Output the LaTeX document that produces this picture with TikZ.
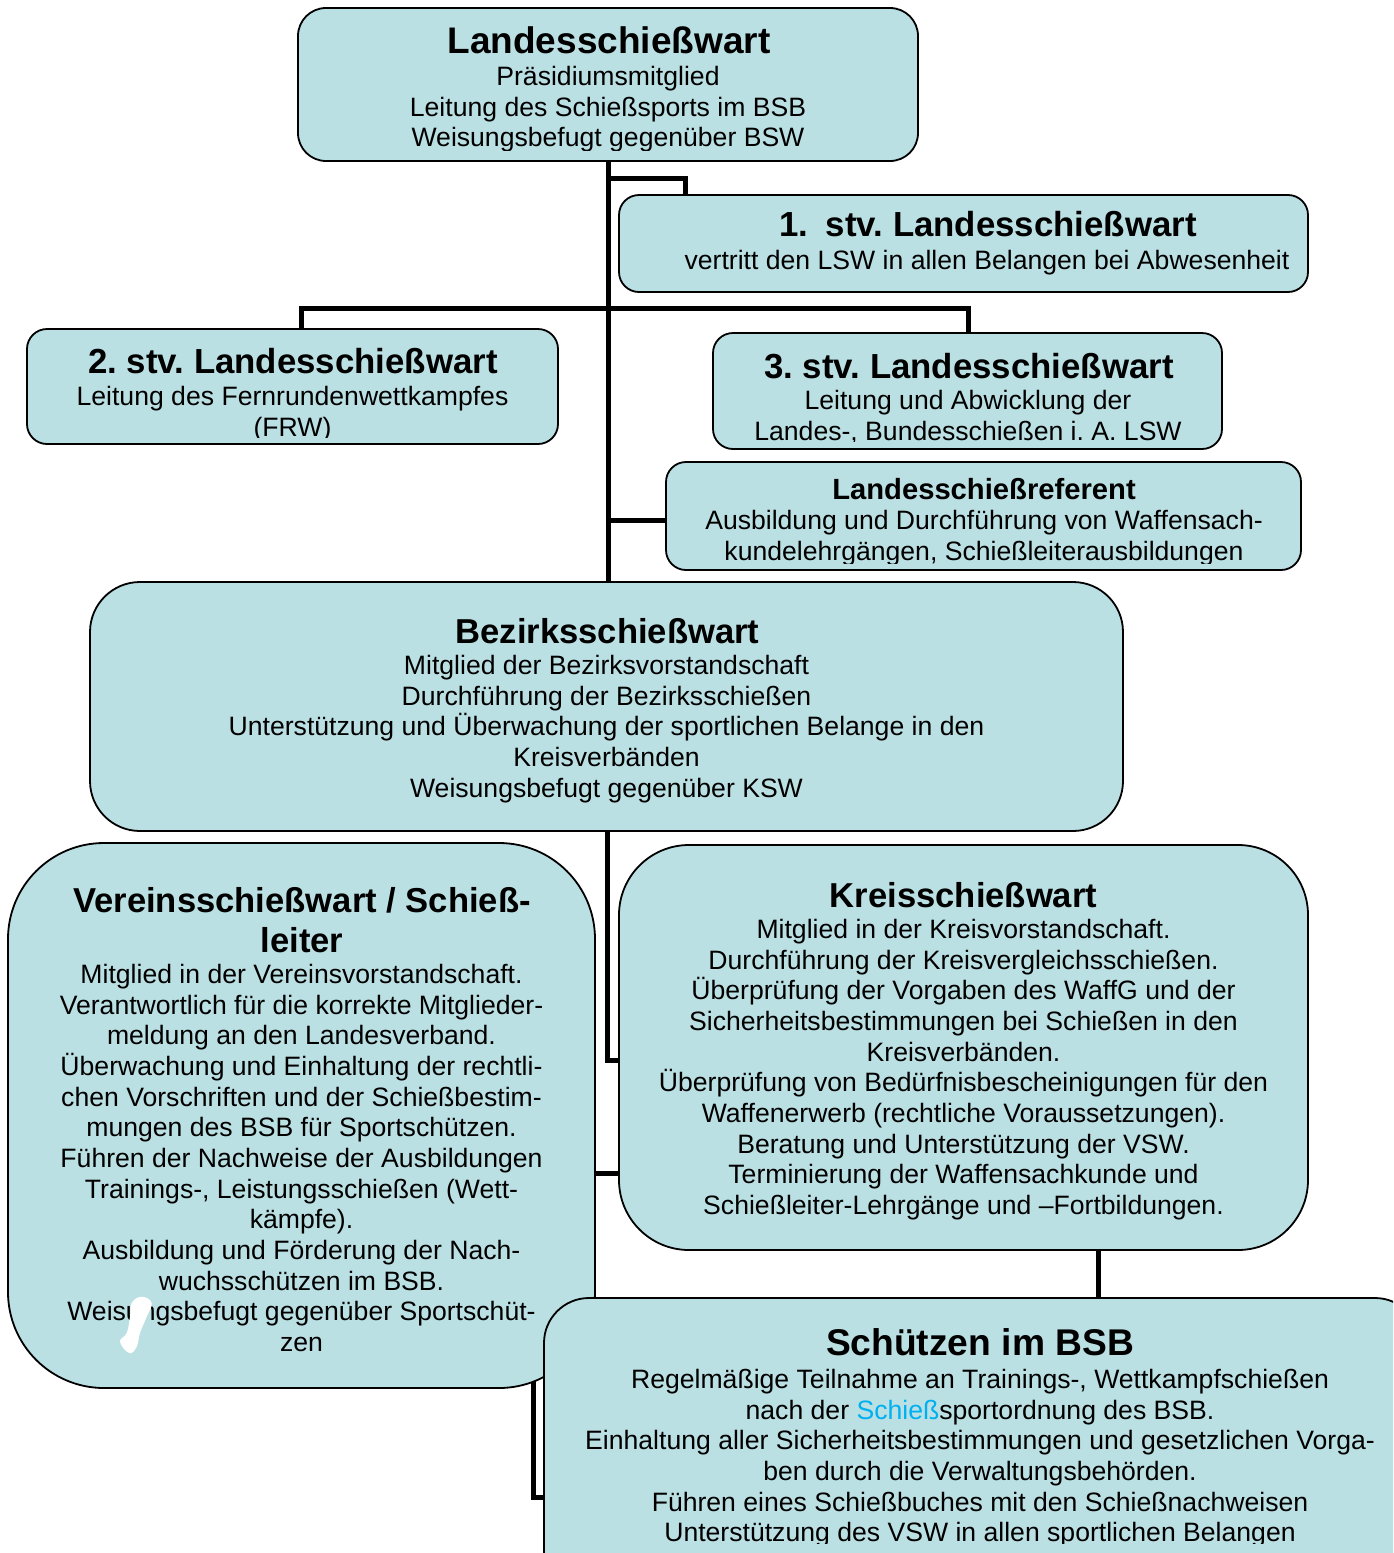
\documentclass[tikz,border=0pt]{standalone}
\usepackage{fontspec}
\setmainfont{Liberation Sans}
\usetikzlibrary{backgrounds}
\definecolor{boxfill}{RGB}{187,224,227}
\definecolor{linkblue}{RGB}{0,176,240}
\newcommand\firststrut{\rule{0pt}{13pt}}
\newcommand\titlestrut{\rule{0pt}{16pt}}
\begin{document}
\frenchspacing
\begin{tikzpicture}[x=0.5pt,y=-0.5pt,
  box/.style={draw=black, line width=0.9pt, fill=boxfill, inner sep=0pt, outer sep=0pt, anchor=north west},
  conn/.style={line width=2.5pt, draw=black},
  body/.style={font=\fontsize{13.3}{15.33}\selectfont, align=center, inner sep=0pt, anchor=north},
  ttl/.style={font=\bfseries\fontsize{#1}{20}\selectfont, inner sep=0pt, anchor=base},
]
\useasboundingbox (0,0) rectangle (1393,1553);
\clip (0,0) rectangle (1393,1553);

% boxes
\node[box, minimum width=310pt, minimum height=76.5pt, rounded corners=14pt] (lsw) at (298,8) {};
\node[box, minimum width=344.5pt, minimum height=48.5pt, rounded corners=10pt] (stv1) at (619,195) {};
\node[box, minimum width=265.5pt, minimum height=57.5pt, rounded corners=10pt] (stv2) at (27,329) {};
\node[box, minimum width=254.5pt, minimum height=58pt, rounded corners=10pt] (stv3) at (713,333) {};
\node[box, minimum width=317.5pt, minimum height=54pt, rounded corners=10pt] (ref) at (666,462) {};
\node[box, minimum width=516.5pt, minimum height=124.5pt, rounded corners=25pt] (bez) at (90,582) {};
\node[box, minimum width=293.5pt, minimum height=272.5pt, rounded corners=48pt] (verein) at (8,843) {};
\node[box, minimum width=344.5pt, minimum height=202.5pt, rounded corners=35pt] (kreis) at (619,845) {};
\node[box, minimum width=438pt, minimum height=161pt, rounded corners=22.5pt] (sch) at (544,1298) {};

% texts
\node[ttl=18.5] (lswT) at (609,53) {Landesschießwart};
\begin{scope}
\clip (298,8) rectangle (918,150);
\node[body] (lswB) at (608,59) {\firststrut Präsidiumsmitglied\\Leitung des Schießsports im BSB\\Weisungsbefugt gegenüber BSW};
\end{scope}

\node[ttl=17.4] (stv1T) at (988,236) {1.\kern4pt{} stv. Landesschießwart};
\node[body] (stv1B) at (987,243) {\firststrut vertritt den LSW in allen Belangen bei Abwesenheit};

\node[ttl=17.4] (stv2T) at (293,373) {2. stv. Landesschießwart};
\begin{scope}
\clip (27,329) rectangle (558,437);
\node[body] (stv2B) at (292.5,379) {\firststrut Leitung des Fernrundenwettkampfes\\(FRW)};
\end{scope}

\node[ttl=17.4] (stv3T) at (969,378) {3. stv. Landesschießwart};
\begin{scope}
\clip (713,333) rectangle (1222,441);
\node[body] (stv3B) at (968,383) {\firststrut Leitung und Abwicklung der\\Landes-, Bundesschießen i. A. LSW};
\end{scope}

\node[ttl=14.6] (refT) at (984,499) {Landesschießreferent};
\begin{scope}
\clip (666,462) rectangle (1301,563);
\node[body] (refB) at (984,503) {\firststrut Ausbildung und Durchführung von Waffensach-\\kundelehrgängen, Schießleiterausbildungen};
\end{scope}

\node[ttl=17.3] (bezT) at (607.5,643) {Bezirksschießwart};
\node[body] (bezB) at (606.5,648) {\firststrut Mitglied der Bezirksvorstandschaft\\Durchführung der Bezirksschießen\\Unterstützung und Überwachung der sportlichen Belange in den\\Kreisverbänden\\Weisungsbefugt gegenüber KSW};

\node[font=\bfseries\fontsize{17.3}{20}\selectfont, align=center, inner sep=0pt, anchor=north] (vereinT) at (302,880) {\titlestrut Vereinsschießwart / Schieß-\\leiter};
\node[body] (vereinB) at (301.5,957) {\firststrut Mitglied in der Vereinsvorstandschaft.\\Verantwortlich für die korrekte Mitglieder-\\meldung an den Landesverband.\\Überwachung und Einhaltung der rechtli-\\chen Vorschriften und der Schießbestim-\\mungen des BSB für Sportschützen.\\Führen der Nachweise der Ausbildungen\\Trainings-, Leistungsschießen (Wett-\\kämpfe).\\Ausbildung und Förderung der Nach-\\wuchsschützen im BSB.\\Weisungsbefugt gegenüber Sportschüt-\\zen};

\node[ttl=17.3] (kreisT) at (963.5,907) {Kreisschießwart};
\node[body] (kreisB) at (963.5,912) {\firststrut Mitglied in der Kreisvorstandschaft.\\Durchführung der Kreisvergleichsschießen.\\Überprüfung der Vorgaben des WaffG und der\\Sicherheitsbestimmungen bei Schießen in den\\Kreisverbänden.\\Überprüfung von Bedürfnisbescheinigungen für den\\Waffenerwerb (rechtliche Voraussetzungen).\\Beratung und Unterstützung der VSW.\\Terminierung der Waffensachkunde und\\Schießleiter-Lehrgänge und –Fortbildungen.};

\node[ttl=18.6] (schT) at (980,1355) {Schützen im BSB};
\begin{scope}
\clip (544,1298) rectangle (1420,1543);
\node[body] (schB) at (980,1362) {\firststrut Regelmäßige Teilnahme an Trainings-, Wettkampfschießen\\nach der \textcolor{linkblue}{Schieß}sportordnung des BSB.\\Einhaltung aller Sicherheitsbestimmungen und gesetzlichen Vorga-\\ben durch die Verwaltungsbehörden.\\Führen eines Schießbuches mit den Schießnachweisen\\Unterstützung des VSW in allen sportlichen Belangen};
\end{scope}

% white blot
\fill[white] plot[smooth cycle, tension=0.7] coordinates {(141.7,1296.7) (151.7,1303) (146.7,1316.7) (140,1333) (136.7,1346.7) (129.3,1353) (120,1341.7) (126.7,1333) (130,1316.7) (131.7,1303)};

% connectors
\begin{scope}[on background layer]
\draw[conn] (lsw.south) -- (lsw.south |- bez.north);
\coordinate (j1) at (685,178);
\draw[conn] (lsw.south |- j1) -- (j1) -- (j1 |- stv1.north);
\coordinate (j2) at (301,308);
\coordinate (j3) at (968,308);
\draw[conn] (j2 |- stv2.north) -- (j2) -- (j3) -- (j3 |- stv3.north);
\coordinate (j8) at (666,520);
\draw[conn] (lsw.south |- j8) -- (j8);
\coordinate (j4) at (607,1060);
\draw[conn] (bez.south -| j4) -- (j4) -- (j4 -| kreis.west);
\coordinate (j5) at (596,1173);
\draw[conn] (verein.east |- j5) -- (kreis.west |- j5);
\coordinate (j6) at (1098,1270);
\draw[conn] (kreis.south -| j6) -- (sch.north -| j6);
\coordinate (j7) at (533,1497);
\draw[conn] (j7 |- verein.center) -- (j7) -- (j7 -| sch.west);
\end{scope}
\end{tikzpicture}
\end{document}
